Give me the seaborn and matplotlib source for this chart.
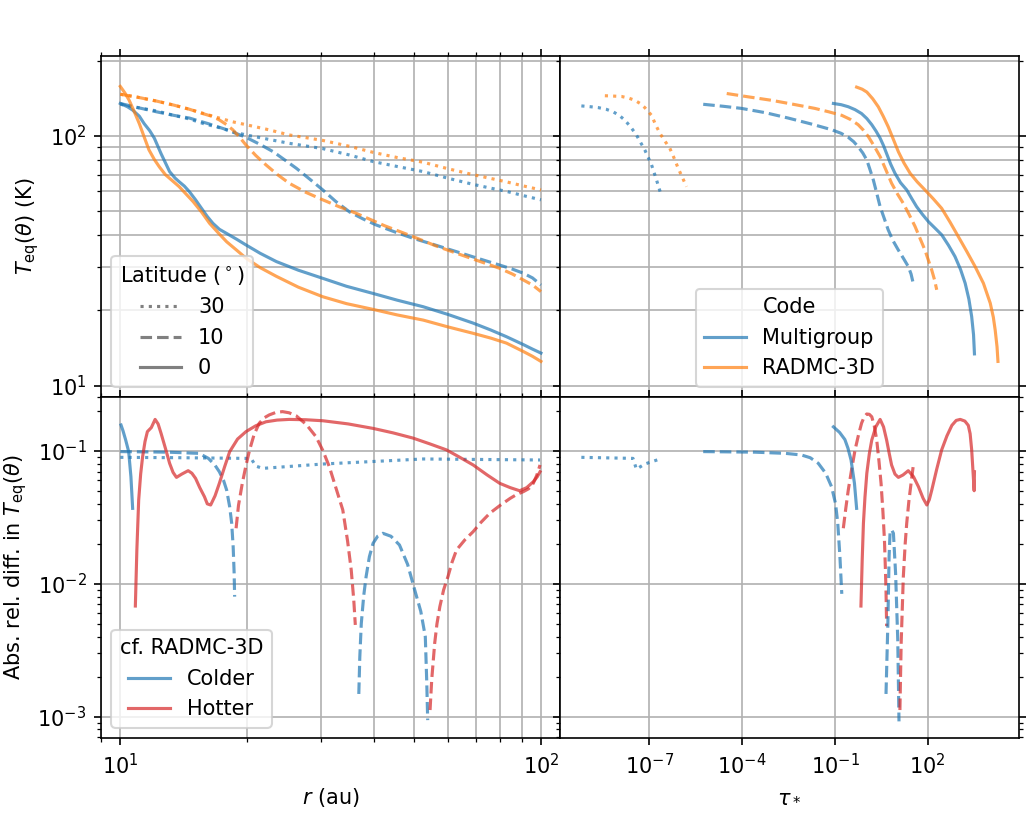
import numpy as np
import matplotlib
matplotlib.use('Agg')
import matplotlib.pyplot as plt
import matplotlib.ticker as ticker
from matplotlib.lines import Line2D
import seaborn as sns

# colours
c_mg = '#1f77b4'
c_rd = '#ff7f0e'
c_hot = '#d62728'
ALPHA = 0.7

# ---- top left: T_eq vs r ----
r_mg0 = [10.0, 10.4, 10.7, 11.1, 11.4, 11.75, 12.05, 12.5, 13.1, 13.5, 13.8, 14.2, 14.6, 15.1, 15.6, 16.1,
         16.6, 17.2, 17.9, 18.9, 19.9, 21.5, 23.5, 26.5, 30.3, 34.5, 39.9, 45.5, 52.5, 60, 69.0, 76, 82.8, 90.8, 95.5, 100]
T_mg0 = [135, 131, 127, 120, 112, 105, 98, 85, 72, 67.8, 65.6, 63, 59.8, 55.5, 51.3, 47.6,
         44.7, 42.3, 40.7, 38.6, 36.6, 33.9, 31.4, 29.0, 26.9, 25.0, 23.4, 22.0, 20.7, 19.3, 17.8, 16.7, 15.7, 14.6, 14.0, 13.5]
r_rd0 = [10.0, 10.25, 10.5, 10.8, 11.1, 11.4, 11.7, 12.05, 12.4, 12.8, 13.3, 13.8, 14.3, 14.9, 15.6, 16.3, 17.1,
         17.9, 18.9, 19.9, 21.5, 23.5, 26.5, 30.3, 34.5, 39.9, 45.5, 52.5, 60, 69, 76, 82.8, 90.8, 95.5, 100]
T_rd0 = [158, 149, 139, 125, 112, 99, 88, 80.5, 75, 70, 66.2, 62.7, 58.8, 54.6, 49.6, 44.7, 40.9,
         37.7, 34.9, 32.4, 29.7, 27.4, 24.8, 22.7, 21.3, 20.2, 19.2, 18.3, 17.2, 16.2, 15.5, 14.8, 13.7, 13.1, 12.5]

r_mg10 = [10, 11, 12.2, 13.4, 14.6, 16.2, 17.9, 19.9, 21.5, 23.1, 24.6, 26.2, 28.2, 30.3, 32.6, 35.1, 37.8,
          40.6, 44.9, 49.7, 56, 63.0, 71, 79.8, 85.5, 90.8, 95.5, 100]
T_mg10 = [135, 130, 125, 121, 118, 112, 106, 98.8, 92.5, 86.5, 80.2, 74.3, 67.2, 60.8, 54.5, 49.6, 46.5,
          44.0, 41.3, 38.9, 36.6, 34.4, 32.3, 30.4, 29.3, 28.2, 27.0, 25.3]
r_rd10 = [10, 11, 12.2, 13.4, 14.6, 15.7, 16.5, 17.2, 17.9, 18.5, 19.2, 19.9, 21.0, 22.2, 23.6, 25.2, 27.6,
          30.3, 33.2, 36.4, 42.5, 49.7, 56, 63, 71, 79.8, 85.5, 90.8, 95.5, 100]
T_rd10 = [147, 143, 138, 133, 128, 123, 120, 116, 111, 106, 99, 92, 83.5, 76.6, 70.2, 64.7, 59.5,
          55.5, 52.0, 49, 43.7, 39.5, 36.4, 33.9, 31.6, 29.5, 28.0, 26.5, 25.3, 23.8]

r_30 = [10, 11, 12.2, 13.4, 14.6, 15.8, 17.2, 18.5, 19.9, 22.5, 25.2, 30.3, 35, 39.9, 45.5, 52.5, 60, 69, 76,
        82.8, 90.8, 100]
T_mg30 = [134, 130, 126, 121, 117, 112, 108, 104, 101, 97, 93.5, 89, 84, 79, 75.5, 72, 67.8, 64, 61.8, 60,
          57.7, 55.5]
T_rd30 = [147, 143, 138, 133, 128, 123, 118, 114, 111, 106, 101, 96, 91, 86, 82, 78.5, 74, 70, 67.6, 65.5,
          63.1, 60.8]

# ---- top right: T_eq vs tau (log10 tau) ----
lt_mg30 = [-9.20, -8.90, -8.66, -8.40, -8.17, -7.98, -7.80, -7.60, -7.42, -7.28, -7.15, -6.93, -6.77, -6.61]
Tt_mg30 = [132, 131, 130, 128, 125, 121, 116, 108.5, 101, 94, 88, 76.6, 66.7, 57.5]
lt_rd30 = [-8.44, -8.15, -7.90, -7.68, -7.47, -7.30, -7.15, -6.93, -6.80, -6.66, -6.50, -6.34, -6.20, -6.07, -5.80]
Tt_rd30 = [145, 144.5, 144, 142, 139, 135, 130, 121, 111, 102.5, 95.5, 89.3, 81.5, 74.3, 62.7]
lt_mg10 = [-5.26, -4.60, -4.02, -3.25, -2.51, -1.80, -1.11, -0.80, -0.57, -0.40, -0.25, -0.10, 0.03, 0.13,
           0.24, 0.35, 0.46, 0.60, 0.72, 0.88, 1.05, 1.21, 1.37, 1.46, 1.53]
Tt_mg10 = [134, 131.5, 129, 124, 118, 112, 106, 102.5, 98.8, 95, 90.6, 85.5, 80.1, 73.5,
           66.7, 59, 52.1, 46.5, 42.1, 38.0, 34.9, 32.4, 30, 28.0, 25.7]
lt_rd10 = [-4.50, -3.80, -3.05, -2.35, -1.65, -1.20, -0.78, -0.50, -0.25, -0.08, 0.08, 0.27, 0.46, 0.65, 0.83,
           1.02, 1.21, 1.40, 1.59, 1.75, 1.91, 2.02, 2.13, 2.22, 2.29]
Tt_rd10 = [148, 143.5, 139, 134, 129, 125, 121, 116.5, 111, 105.5, 99.4, 91, 82.7, 73, 64.7,
           58.6, 53.7, 48.4, 43.4, 38.9, 34.9, 31.8, 29, 26.5, 24.2]
lt_mg0 = [-1.05, -0.80, -0.57, -0.35, -0.14, 0.03, 0.19, 0.33, 0.46, 0.57, 0.67, 0.80, 0.94, 1.12, 1.32, 1.48,
          1.64, 1.83, 2.02, 2.23, 2.45, 2.67, 2.88, 3.06, 3.21, 3.33, 3.42, 3.48, 3.51]
Tt_mg0 = [135, 133.5, 131, 127.5, 123, 117.5, 111, 104.5, 98, 91.5, 85, 77.2, 70.9, 65.0, 60.8, 56.2,
          52.1, 48.5, 45.4, 42.8, 40.2, 36.5, 32.9, 29.2, 25.7, 22.2, 18.9, 16.0, 13.4]
lt_rd0 = [-0.30, -0.12, 0.03, 0.22, 0.40, 0.56, 0.72, 0.88, 1.05, 1.23, 1.43, 1.66, 1.91, 2.18, 2.45, 2.72,
          2.99, 3.26, 3.53, 3.80, 4.02, 4.12, 4.18, 4.24, 4.27]
Tt_rd0 = [157, 154, 150, 141, 131, 120, 109, 97.5, 86.5, 78, 70.9, 65.5, 60.8, 56, 51.3, 45.2,
          39.5, 34.5, 30, 25.7, 21.4, 18.8, 16.7, 14.3, 12.5]

# ---- bottom left: abs rel diff vs r ----
r_cold0 = [10.04, 10.15, 10.3, 10.47, 10.6, 10.7]
d_cold0 = [0.157, 0.142, 0.121, 0.099, 0.064, 0.037]
r_hot0 = [10.86, 10.95, 11.06, 11.18, 11.3, 11.45, 11.6, 11.85, 12.1, 12.3, 12.5, 12.8, 13.1, 13.35, 13.6, 14.0,
          14.5, 14.8, 15.1, 15.45, 15.85, 16.1, 16.4, 16.8, 17.2, 17.7, 18.2, 19.0, 19.9, 21.0,
          22.2, 23.6, 25.2, 27.6, 30.3, 34.8, 39.9, 44.5, 49.7, 54.5, 59.6, 64, 69, 74.5, 79.8, 84.5, 89, 92.5, 95.9, 98, 99.5]
d_hot0 = [0.0068, 0.018, 0.0428, 0.067, 0.0906, 0.118, 0.140, 0.150, 0.173, 0.160, 0.136, 0.105, 0.0808, 0.069, 0.0633, 0.067,
          0.0711, 0.068, 0.0622, 0.053, 0.0453, 0.040, 0.0392, 0.046, 0.0571, 0.076, 0.0989, 0.123, 0.140, 0.155,
          0.166, 0.171, 0.173, 0.172, 0.169, 0.160, 0.148, 0.137, 0.125, 0.113, 0.102, 0.090, 0.0785, 0.066, 0.0571, 0.053, 0.0502, 0.053, 0.0587, 0.064, 0.0698]
r_cold30 = [10, 14, 19.9, 20.5, 21.0, 21.8, 30.3, 52.5, 99.5]
d_cold30 = [0.0896, 0.089, 0.088, 0.087, 0.077, 0.074, 0.0798, 0.0871, 0.0856]
r_cold10a = [10, 13, 15.4, 16.2, 16.8, 17.2, 17.6, 17.9, 18.2, 18.4, 18.55, 18.65, 18.7]
d_cold10a = [0.099, 0.098, 0.096, 0.088, 0.078, 0.0698, 0.060, 0.0508, 0.038, 0.0286, 0.019, 0.0120, 0.0080]
r_hot10a = [18.85, 19.1, 19.5, 19.9, 20.3, 20.8, 21.4, 22.0, 22.6, 23.4, 24.3, 25.2, 26.2, 27.7, 29.2, 30.3,
            31.4, 32.6, 33.8, 34.7, 35.4, 35.9, 36.2]
d_hot10a = [0.0262, 0.039, 0.0571, 0.078, 0.102, 0.133, 0.162, 0.178, 0.187, 0.195, 0.198, 0.194, 0.184, 0.158, 0.128, 0.101,
            0.0762, 0.052, 0.036, 0.021, 0.0127, 0.0075, 0.0049]
r_cold10b = [36.9, 37.1, 37.4, 37.9, 38.4, 39.1, 39.9, 40.9, 42.1, 44.0, 46.1, 48.2, 50.1, 51.8, 53.1, 53.5, 53.8]
d_cold10b = [0.00148, 0.0028, 0.0050, 0.0081, 0.0113, 0.0160, 0.0202, 0.0228, 0.024, 0.0228, 0.0196, 0.0140, 0.0090, 0.0062, 0.0040, 0.0019, 0.00094]
r_hot10b = [54.5, 55.0, 55.9, 56.6, 57.5, 58.7, 60.1, 61.5, 63, 66, 69, 72, 75.6, 80, 84.5, 87.5, 90.8, 93.5,
            95.9, 97.8, 99.5]
d_hot10b = [0.00112, 0.0019, 0.00357, 0.0050, 0.00673, 0.0090, 0.0113, 0.0146, 0.018, 0.0215, 0.0247, 0.029, 0.034, 0.039, 0.044, 0.047, 0.0494, 0.052,
            0.0571, 0.066, 0.0785]

# ---- bottom right: abs rel diff vs tau (log10 tau) ----
lb_cold30 = [-9.20, -7.53, -7.42, -7.15, -6.66]
db_cold30 = [0.0896, 0.088, 0.073, 0.0798, 0.087]
lb_cold10a = [-5.26, -3.59, -2.60, -2.08, -1.80, -1.54, -1.30, -1.11, -0.98, -0.91, -0.84, -0.78]
db_cold10a = [0.099, 0.098, 0.096, 0.0933, 0.089, 0.0808, 0.068, 0.0538, 0.040, 0.0286, 0.016, 0.0084]
lb_hot10a = [-0.73, -0.65, -0.57, -0.46, -0.35, -0.24, -0.14, -0.06, 0.026, 0.11, 0.19, 0.27, 0.35, 0.42, 0.49,
             0.55, 0.60, 0.63, 0.65, 0.67]
db_hot10a = [0.0262, 0.037, 0.0508, 0.073, 0.102, 0.132, 0.162, 0.180, 0.19, 0.189, 0.181, 0.155, 0.121, 0.085, 0.0571,
             0.035, 0.0213, 0.013, 0.0090, 0.0048]
lb_cold10b = [0.65, 0.71, 0.75, 0.78, 0.83, 0.89, 0.96, 1.03, 1.07]
db_cold10b = [0.00148, 0.005, 0.016, 0.024, 0.0255, 0.024, 0.012, 0.0038, 0.00092]
lb_hot10b = [1.10, 1.14, 1.21, 1.27, 1.32, 1.39, 1.46, 1.53]
db_hot10b = [0.00112, 0.00357, 0.0113, 0.020, 0.0286, 0.042, 0.0571, 0.077]
lb_cold0 = [-1.05, -0.85, -0.68, -0.58, -0.48, -0.37, -0.30]
db_cold0 = [0.152, 0.138, 0.122, 0.105, 0.0855, 0.0571, 0.037]
lb_hot0 = [-0.16, -0.12, -0.08, -0.03, 0.03, 0.11, 0.19, 0.32, 0.46, 0.57, 0.67, 0.75, 0.83, 0.94, 1.05, 1.20,
           1.37, 1.54, 1.70, 1.85, 1.97, 2.05, 2.13, 2.29, 2.45, 2.62, 2.78, 2.92, 3.05, 3.20,
           3.31, 3.37, 3.42, 3.47, 3.50, 3.51]
db_hot0 = [0.0068, 0.015, 0.0286, 0.045, 0.068, 0.095, 0.121, 0.152, 0.173, 0.152, 0.121, 0.097, 0.0785, 0.067, 0.0633, 0.066,
           0.0711, 0.064, 0.0538, 0.044, 0.0392, 0.043, 0.0508, 0.073, 0.102, 0.130, 0.156, 0.170, 0.173, 0.168,
           0.156, 0.135, 0.102, 0.066, 0.0502, 0.0698]


def line(ax, x, y, color, ls):
    sns.lineplot(x=np.asarray(x, float), y=np.asarray(y, float), ax=ax, color=color,
                 linestyle=ls, alpha=ALPHA, lw=1.5, sort=False, estimator=None, legend=False)


def tau(lt):
    return 10.0 ** np.asarray(lt)


fig, axes = plt.subplots(2, 2, figsize=(6.88, 5.5), dpi=150, sharex='col', sharey='row')
fig.subplots_adjust(left=0.0979, right=0.9874, top=0.932, bottom=0.1055, hspace=0, wspace=0)
ax_tl, ax_tr = axes[0]
ax_bl, ax_br = axes[1]

for ax in axes.flat:
    ax.set_xscale('log')
    ax.set_yscale('log')

# top left
line(ax_tl, r_30, T_mg30, c_mg, ':')
line(ax_tl, r_30, T_rd30, c_rd, ':')
line(ax_tl, r_mg10, T_mg10, c_mg, '--')
line(ax_tl, r_rd10, T_rd10, c_rd, '--')
line(ax_tl, r_mg0, T_mg0, c_mg, '-')
line(ax_tl, r_rd0, T_rd0, c_rd, '-')

# top right
line(ax_tr, tau(lt_mg30), Tt_mg30, c_mg, ':')
line(ax_tr, tau(lt_rd30), Tt_rd30, c_rd, ':')
line(ax_tr, tau(lt_mg10), Tt_mg10, c_mg, '--')
line(ax_tr, tau(lt_rd10), Tt_rd10, c_rd, '--')
line(ax_tr, tau(lt_mg0), Tt_mg0, c_mg, '-')
line(ax_tr, tau(lt_rd0), Tt_rd0, c_rd, '-')

# bottom left
line(ax_bl, r_cold30, d_cold30, c_mg, ':')
line(ax_bl, r_cold10a, d_cold10a, c_mg, '--')
line(ax_bl, r_hot10a, d_hot10a, c_hot, '--')
line(ax_bl, r_cold10b, d_cold10b, c_mg, '--')
line(ax_bl, r_hot10b, d_hot10b, c_hot, '--')
line(ax_bl, r_cold0, d_cold0, c_mg, '-')
line(ax_bl, r_hot0, d_hot0, c_hot, '-')

# bottom right
line(ax_br, tau(lb_cold30), db_cold30, c_mg, ':')
line(ax_br, tau(lb_cold10a), db_cold10a, c_mg, '--')
line(ax_br, tau(lb_hot10a), db_hot10a, c_hot, '--')
line(ax_br, tau(lb_cold10b), db_cold10b, c_mg, '--')
line(ax_br, tau(lb_hot10b), db_hot10b, c_hot, '--')
line(ax_br, tau(lb_cold0), db_cold0, c_mg, '-')
line(ax_br, tau(lb_hot0), db_hot0, c_hot, '-')

# limits
ax_tl.set_xlim(9.0, 111)
ax_tr.set_xlim(10 ** -9.89, 10 ** 4.95)
ax_tl.set_ylim(9.0, 209)
ax_bl.set_ylim(6.9e-4, 0.255)

ax_tr.xaxis.set_major_locator(ticker.FixedLocator([1e-7, 1e-4, 1e-1, 1e2]))
ax_tr.xaxis.set_minor_locator(ticker.NullLocator())

for ax in axes.flat:
    ax.tick_params(which='both', direction='out', top=True, right=True,
                   labeltop=False, labelright=False)

ax_tl.grid(which='both', axis='both')
ax_tr.grid(which='major', axis='x')
ax_tr.grid(which='both', axis='y')
ax_bl.grid(which='both', axis='x')
ax_bl.grid(which='major', axis='y')
ax_br.grid(which='major', axis='both')

ax_tl.set_ylabel(r'$T_{\rm eq}(\theta)$ (K)')
ax_bl.set_ylabel(r'Abs. rel. diff. in $T_{\rm eq}(\theta)$')
ax_bl.set_xlabel(r'$r$ (au)')
ax_br.set_xlabel(r'$\tau_*$')
for ax in (ax_tr, ax_br):
    ax.set_ylabel('')
ax_tl.set_xlabel('')
ax_tr.set_xlabel('')

# legends
lat_handles = [Line2D([], [], color='grey', ls=':', lw=1.5),
               Line2D([], [], color='grey', ls='--', lw=1.5),
               Line2D([], [], color='grey', ls='-', lw=1.5)]
ax_tl.legend(lat_handles, ['30', '10', '0'], title=r'Latitude ($^\circ$)', loc='lower left')

code_handles = [Line2D([], [], color=c_mg, alpha=ALPHA, lw=1.5),
                Line2D([], [], color=c_rd, alpha=ALPHA, lw=1.5)]
ax_tr.legend(code_handles, ['Multigroup', 'RADMC-3D'], title='Code', loc='lower center')

cf_handles = [Line2D([], [], color=c_mg, alpha=ALPHA, lw=1.5),
              Line2D([], [], color=c_hot, alpha=ALPHA, lw=1.5)]
ax_bl.legend(cf_handles, ['Colder', 'Hotter'], title='cf. RADMC-3D', loc='lower left')

fig.savefig('out.png', dpi=150)
